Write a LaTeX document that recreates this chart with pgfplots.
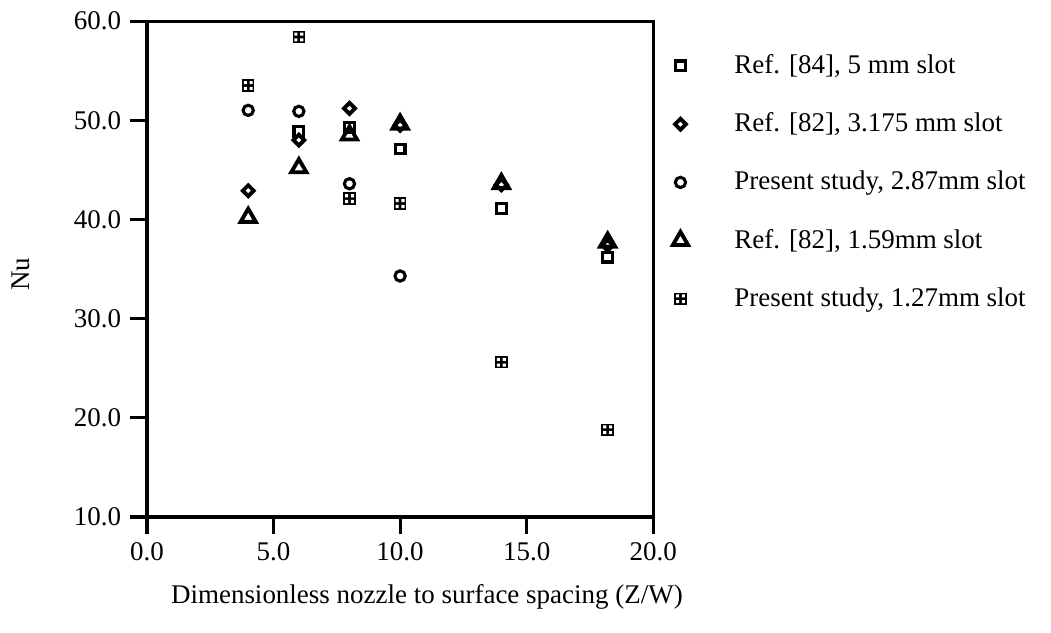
\documentclass[border=0pt]{standalone}
\usepackage{fontspec}
\setmainfont{Liberation Serif}
\usepackage{pgfplots}
\pgfplotsset{compat=1.18}
\pgfdeclareplotmark{boxgrid}{%
  \pgfpathrectangle{\pgfpoint{-\pgfplotmarksize}{-\pgfplotmarksize}}{\pgfpoint{2\pgfplotmarksize}{2\pgfplotmarksize}}%
  \pgfsetfillcolor{black}\pgfusepathqfill
  \pgfsetfillcolor{white}%
  \pgfpathrectangle{\pgfpoint{-0.72\pgfplotmarksize}{-0.72\pgfplotmarksize}}{\pgfpoint{0.5\pgfplotmarksize}{0.5\pgfplotmarksize}}%
  \pgfpathrectangle{\pgfpoint{0.22\pgfplotmarksize}{-0.72\pgfplotmarksize}}{\pgfpoint{0.5\pgfplotmarksize}{0.5\pgfplotmarksize}}%
  \pgfpathrectangle{\pgfpoint{-0.72\pgfplotmarksize}{0.22\pgfplotmarksize}}{\pgfpoint{0.5\pgfplotmarksize}{0.5\pgfplotmarksize}}%
  \pgfpathrectangle{\pgfpoint{0.22\pgfplotmarksize}{0.22\pgfplotmarksize}}{\pgfpoint{0.5\pgfplotmarksize}{0.5\pgfplotmarksize}}%
  \pgfusepathqfill
}
\begin{document}
\begin{tikzpicture}
\begin{axis}[
  scale only axis, width=197pt, height=193pt,
  xmin=0, xmax=20, ymin=10, ymax=60,
  xtick={0,5,10,15,20}, ytick={10,20,30,40,50,60},
  tick align=outside, xtick pos=bottom, ytick pos=left,
  major tick length=6.5pt,
  axis line style={line width=1.2pt},
  every tick/.style={line width=1.2pt, black},
  /pgf/number format/assume math mode=true,
  tick label style={font=\fontsize{10.5}{12}\selectfont},
  xticklabel style={/pgf/number format/.cd, fixed, fixed zerofill, precision=1},
  yticklabel style={/pgf/number format/.cd, fixed, fixed zerofill, precision=1},
  xlabel={Dimensionless nozzle to surface spacing (Z/W)},
  ylabel={Nu},
  label style={font=\fontsize{10.5}{12}\selectfont},
  xlabel style={at={(axis description cs:0.553,0)}, anchor=center, yshift=-31pt},
  ylabel style={at={(axis description cs:-0.25,0.49)}, anchor=center},
  every axis plot/.append style={only marks, black,
    legend image code/.code={\path[draw=none,fill=none] (-6pt,-5pt) rectangle (19pt,5pt); \draw[##1] plot coordinates {(0pt,0pt)};}},
  legend cell align=left,
  legend style={at={(1,1)}, anchor=north west, xshift=4.4pt, yshift=-10.8pt,
    draw=none, fill=none, inner sep=0pt, row sep=9.8pt,
    font=\fontsize{10.5}{12}\selectfont},
]
\addplot[mark=square, mark size=1.9pt, line width=1.2pt] coordinates {
  (6,48.9) (8,49.3) (10,47.1) (14,41.1) (18.2,36.2)};
\addlegendentry{Ref. [84], 5 mm slot}
\addplot[mark=square*, mark size=1.5pt, line width=1.5pt, mark options={rotate=45, fill=white}] coordinates {
  (4,42.9) (6,48.0) (8,51.2) (10,49.5) (14,43.5) (18.2,37.4)};
\addlegendentry{Ref. [82], 3.175 mm slot}
\addplot[mark=o, mark size=2.0pt, line width=1.2pt] coordinates {
  (4,51.0) (6,50.9) (8,43.6) (10,34.3)};
\addlegendentry{Present study, 2.87mm slot}
\addplot[mark=triangle, mark size=3.4pt, line width=1.5pt] coordinates {
  (4,40.2) (6,45.2) (8,48.5) (10,49.6) (14,43.6) (18.2,37.7)};
\addlegendentry{Ref. [82], 1.59mm slot}
\addplot[mark=boxgrid, mark size=2.4pt] coordinates {
  (4,53.5) (6,58.4) (8,42.1) (10,41.6) (14,25.6) (18.2,18.8)};
\addlegendentry{Present study, 1.27mm slot}
\end{axis}
\pgfresetboundingbox
\path[use as bounding box] (-57.2pt,-45.1pt) rectangle (351.8pt,201.2pt);
\end{tikzpicture}
\end{document}
